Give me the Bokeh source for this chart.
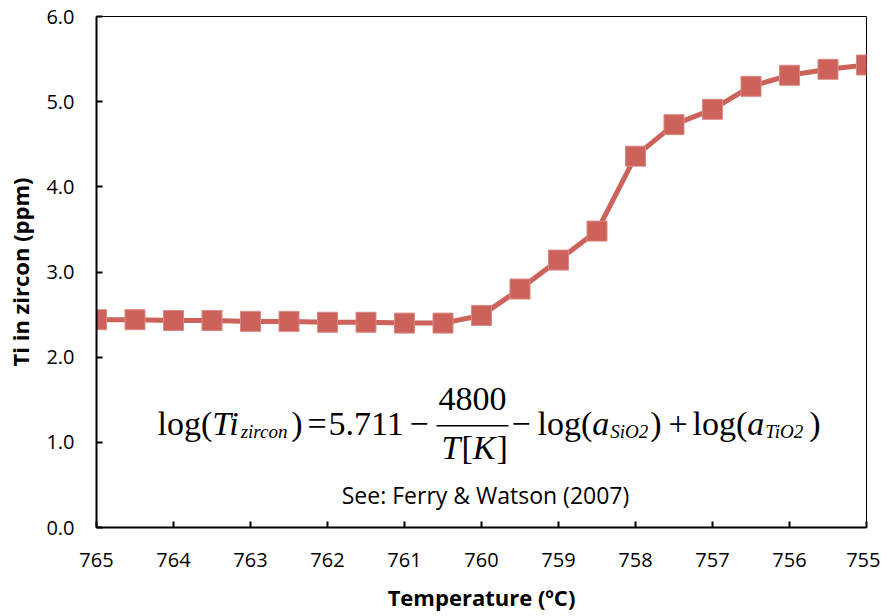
from bokeh.plotting import figure
from bokeh.models import Range1d, FixedTicker, PrintfTickFormatter, Label
from bokeh.embed import file_html
from bokeh.resources import INLINE

# ---- data ----
temperature_c = [765.0, 764.5, 764.0, 763.5, 763.0, 762.5, 762.0, 761.5, 761.0, 760.5,
                 760.0, 759.5, 759.0, 758.5, 758.0, 757.5, 757.0, 756.5, 756.0, 755.5, 755.0]
ti_ppm = [2.44, 2.44, 2.43, 2.43, 2.42, 2.42, 2.41, 2.41, 2.40, 2.40,
          2.49, 2.80, 3.14, 3.48, 4.36, 4.73, 4.91, 5.18, 5.31, 5.38, 5.43]
x_ticks = [765, 764, 763, 762, 761, 760, 759, 758, 757, 756, 755]
y_ticks = [0, 1, 2, 3, 4, 5, 6]

X0, X1 = 765, 755
Y0, Y1 = 0, 6

p = figure(width=880, height=614, output_backend="svg", toolbar_location=None,
           x_range=Range1d(X0, X1), y_range=Range1d(Y0, Y1),
           min_border_left=96, min_border_right=14, min_border_top=16, min_border_bottom=86)
p.xgrid.visible = False
p.ygrid.visible = False
p.outline_line_color = "black"
p.outline_line_width = 1
p.background_fill_color = "white"
p.border_fill_color = "white"

FONT = "Open Sans"
for ax in (p.xaxis[0], p.yaxis[0]):
    ax.axis_line_width = 2
    ax.axis_line_color = "black"
    ax.major_tick_line_width = 2
    ax.major_tick_line_color = "black"
    ax.major_tick_in = 6
    ax.major_tick_out = 0
    ax.minor_tick_line_color = None
    ax.major_label_text_font = FONT
    ax.major_label_text_font_size = "20px"
    ax.major_label_text_color = "black"
    ax.axis_label_text_font = FONT
    ax.axis_label_text_font_style = "bold"
    ax.axis_label_text_font_size = "22px"
    ax.axis_label_text_color = "black"

p.xaxis.ticker = FixedTicker(ticks=x_ticks)
p.yaxis.ticker = FixedTicker(ticks=y_ticks)
p.yaxis.formatter = PrintfTickFormatter(format="%.1f")
p.xaxis.major_label_standoff = 25
p.yaxis.major_label_standoff = 22
p.xaxis.axis_label = "Temperature (ºC)"
p.yaxis.axis_label = "Ti in zircon (ppm)"
p.xaxis.axis_label_standoff = 12
p.yaxis.axis_label_standoff = 8

COLOR = "#CC6259"
p.line(temperature_c, ti_ppm, line_color=COLOR, line_width=5)
p.scatter(temperature_c, ti_ppm, marker="square", size=20, fill_color=COLOR,
          line_color="#D98A84", line_width=1)

# helpers: reference pixel position -> data coordinates
def dx(px):
    return X0 + (px - 96) / 770.0 * (X1 - X0)

def dy(py):
    return Y1 - (py - 16) / 512.0 * (Y1 - Y0)

SERIF = "Liberation Serif"
MAIN = 34
SUB = 19
BASE = 424
# Times metrics (per em) for chaining pieces
W_REG = {"l": .278, "o": .5, "g": .5, "(": .333, ")": .333, "[": .333, "]": .333}
W_IT = {"T": .556, "i": .278, "z": .389, "r": .389, "c": .444, "o": .5, "n": .5,
        "a": .5, "S": .5, "O": .722, "2": .5, "K": .667}

def width(txt, style, size):
    tbl = W_IT if style == "italic" else W_REG
    return sum(tbl.get(ch, .5) for ch in txt) * size

def put(txt, px, py, style, size, align="left"):
    p.add_layout(Label(x=dx(px), y=dy(py), text=txt, text_font=SERIF,
                       text_font_style=style, text_font_size=f"{size}px",
                       text_align=align, text_baseline="alphabetic", text_color="black"))

def chain(start, parts, base=BASE):
    x = start
    for txt, style, size, shift, gap in parts:
        put(txt, x, base + shift, style, size)
        x += width(txt, style, size) + gap

chain(157, [("log(", "normal", MAIN, 0, 0), ("Ti", "italic", MAIN, 0, 0),
            ("zircon", "italic", SUB, 8, 3), (")", "normal", MAIN, 0, 0)])
put("=", 307, BASE, "normal", MAIN)
put("5.711", 328, BASE, "normal", MAIN)
put("\u2212", 409, BASE, "normal", MAIN)
put("4800", 472, BASE - 25, "normal", MAIN, "center")
chain(441, [("T", "italic", MAIN, 0, 1), ("[", "normal", MAIN, 0, 0),
            ("K", "italic", MAIN, 0, 1), ("]", "normal", MAIN, 0, 0)], base=BASE + 24)
put("\u2212", 511, BASE, "normal", MAIN)
chain(537, [("log(", "normal", MAIN, 0, 0), ("a", "italic", MAIN, 0, 1),
            ("SiO2", "italic", SUB, 8, 2), (")", "normal", MAIN, 0, 0)])
put("+", 668, BASE, "normal", MAIN)
chain(692, [("log(", "normal", MAIN, 0, 0), ("a", "italic", MAIN, 0, 1),
            ("TiO2", "italic", SUB, 8, 5), (")", "normal", MAIN, 0, 0)])

p.segment(x0=[dx(436)], y0=[dy(426)], x1=[dx(508)], y1=[dy(426)],
          line_color="black", line_width=1.5)

p.add_layout(Label(x=dx(485), y=dy(495), text="See: Ferry & Watson (2007)",
                   text_font=FONT, text_font_size="23px", text_align="center",
                   text_baseline="middle", text_color="black"))

open("out.html", "w").write(file_html(p, INLINE))
